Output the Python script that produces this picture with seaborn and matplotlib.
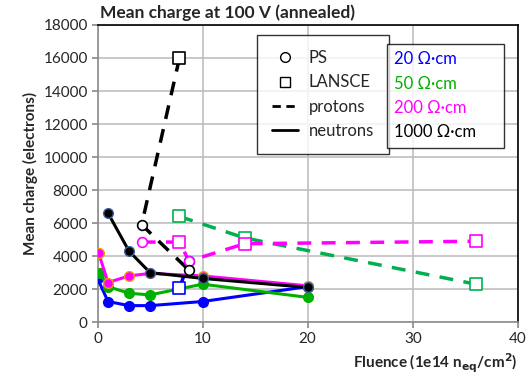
import matplotlib
matplotlib.use("Agg")
import matplotlib.pyplot as plt
import seaborn as sns
import pandas as pd
from matplotlib.lines import Line2D

sns.set_theme(style="white")
plt.rcParams['font.family'] = ['Lato', 'DejaVu Sans']

# Neutron (solid) series: fluence and mean charge
n20_x = [0, 1, 3, 5, 10, 20]
n20_y = [2650, 1250, 1000, 1000, 1250, 2150]
n50_x = [0.2, 1, 3, 5, 10, 20]
n50_y = [3000, 2150, 1750, 1650, 2300, 1500]
n200_x = [0.1, 1, 3, 5, 10, 20]
n200_y = [4200, 2400, 2800, 2950, 2800, 2200]
n1000_x = [1, 3, 5, 10, 20]
n1000_y = [6600, 4300, 3000, 2650, 2100]

# Proton (dashed) series: fluence, mean charge, facility
p20_x = [7.8, 8.7]
p20_y = [2050, 3700]
p20_f = ["LANSCE", "PS"]
p50_x = [7.8, 14, 36]
p50_y = [6400, 5100, 2300]
p50_f = ["LANSCE", "LANSCE", "LANSCE"]
p200_x = [4.2, 7.8, 8.7, 14, 36]
p200_y = [4850, 4850, 3700, 4750, 4900]
p200_f = ["PS", "LANSCE", "PS", "LANSCE", "LANSCE"]
p1000_x = [7.8, 4.2, 8.7]
p1000_y = [16000, 5900, 3150]
p1000_f = ["LANSCE", "PS", "PS"]

res_labels = ["20 Ω·cm", "50 Ω·cm", "200 Ω·cm", "1000 Ω·cm"]
colors = ["#0000FF", "#00B000", "#FF00FF", "#000000"]
dash_colors = ["#0000FF", "#00B050", "#FF00FF", "#000000"]
edge_colors = ["#0000FF", "#00B000", "#E8A000", "#4060A0"]

fig = plt.figure(figsize=(5.3, 3.9), dpi=100)
ax = fig.add_axes([0.184, 0.174, 0.793, 0.762])

neut = [(n20_x, n20_y), (n50_x, n50_y), (n200_x, n200_y), (n1000_x, n1000_y)]
prot = [(p20_x, p20_y, p20_f), (p50_x, p50_y, p50_f),
        (p200_x, p200_y, p200_f), (p1000_x, p1000_y, p1000_f)]

for i, (x, y) in enumerate(neut):
    df = pd.DataFrame({"x": x, "y": y})
    sns.lineplot(data=df, x="x", y="y", ax=ax, color=colors[i], lw=2.2,
                 marker="o", markersize=7, markeredgecolor=edge_colors[i],
                 markeredgewidth=1.0, sort=False, zorder=3)

for i, (x, y, f) in enumerate(prot):
    df = pd.DataFrame({"x": x, "y": y, "f": f})
    sns.lineplot(data=df, x="x", y="y", ax=ax, color=dash_colors[i], lw=2.5,
                 sort=False, zorder=2, dashes=False, linestyle=(0, (4, 3)))
    for fac, mk, ms in [("PS", "o", 7), ("LANSCE", "s", 9)]:
        sub = df[df.f == fac]
        if len(sub):
            sns.scatterplot(data=sub, x="x", y="y", ax=ax, marker=mk, s=ms**2,
                            facecolor="white", edgecolor=dash_colors[i],
                            linewidth=1.2, zorder=4)

ax.set_xlim(0, 40)
ax.set_ylim(0, 18000)
ax.set_xticks([0, 10, 20, 30, 40])
ax.set_yticks(range(0, 18001, 2000))
ax.grid(True, color="#BFBFBF", lw=1.2)
ax.set_axisbelow(True)
for s in ["top", "right"]:
    ax.spines[s].set_color("black")
    ax.spines[s].set_linewidth(1.2)
for s in ["left", "bottom"]:
    ax.spines[s].set_color("#8C8C8C")
    ax.spines[s].set_linewidth(1.2)
ax.tick_params(axis="both", direction="out", length=4, color="#8C8C8C",
               labelsize=11, bottom=True, left=True, pad=3)

ax.set_title("Mean charge at 100 V (annealed)", fontsize=12.5,
             fontweight="bold", pad=5, loc="left", x=0.006)
ax.set_ylabel("Mean charge (electrons)", fontsize=11, fontweight="bold")
ax.set_xlabel("Fluence (1e14 n$_{\\mathbf{eq}}$/cm$^{\\mathbf{2}}$)",
              fontsize=11, fontweight="bold", loc="right")

handles = [
    Line2D([], [], ls="none", marker="o", mfc="white", mec="black", ms=7),
    Line2D([], [], ls="none", marker="s", mfc="white", mec="black", ms=7),
    Line2D([], [], color="black", lw=2, ls=(0, (3, 2))),
    Line2D([], [], color="black", lw=2),
]
leg1 = ax.legend(handles, ["PS", "LANSCE", "protons", "neutrons"],
                 loc="upper left", bbox_to_anchor=(0.379, 0.966),
                 fontsize=12, frameon=True, fancybox=False, edgecolor="black",
                 handlelength=1.6, labelspacing=0.5, borderpad=0.9,
                 handletextpad=0.6, borderaxespad=0)
leg1.get_frame().set_linewidth(1.0)
ax.add_artist(leg1)

empty = [Line2D([], [], ls="none") for _ in res_labels]
leg2 = ax.legend(empty, res_labels, loc="upper left",
                 bbox_to_anchor=(0.688, 0.936), markerfirst=False,
                 fontsize=12, frameon=True,
                 fancybox=False, edgecolor="black", handlelength=1.0,
                 handletextpad=0.2, labelspacing=0.5, borderpad=0.45,
                 borderaxespad=0)
leg2.get_frame().set_linewidth(1.0)
for col in leg2._legend_handle_box.get_children():
    col.align = "left"
for t, c in zip(leg2.get_texts(), colors):
    t.set_color(c)

fig.savefig("out.png", dpi=100)
